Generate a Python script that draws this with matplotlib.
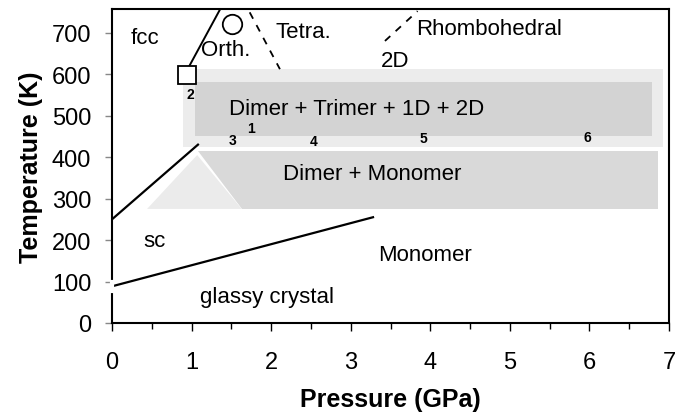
import matplotlib
matplotlib.use("Agg")
import matplotlib.pyplot as plt
from matplotlib.patches import Polygon

plt.rcParams['font.family'] = ['Liberation Sans', 'DejaVu Sans']

# shaded phase regions (pressure GPa, temperature K)
band_outer_p = [0.89, 6.92]
band_outer_t = [424, 612]
band_inner_p = [1.04, 6.78]
band_inner_t = [451, 581]
dimer_mono_p = [1.08, 6.86, 6.86, 1.63]
dimer_mono_t = [414, 414, 275, 275]
wedge_p = [1.07, 0.44, 1.63]
wedge_t = [405, 275, 275]

# phase boundaries
fcc_orth_p = [0.95, 1.36]
fcc_orth_t = [612, 757]
tetra_p = [1.73, 2.11]
tetra_t = [749, 612]
rhombo_p = [3.43, 3.84]
rhombo_t = [680, 752]
sc_p = [0.0, 1.08]
sc_t = [250, 430]
glass_p = [0.03, 3.28]
glass_t = [90, 255]

# experiment points
run_labels = ['1', '2', '3', '4', '5', '6']
run_p = [1.75, 0.99, 1.52, 2.53, 3.91, 5.98]
run_t = [470, 552, 441, 439, 446, 448]

fig = plt.figure(figsize=(6.89, 4.14), dpi=100)
ax = fig.add_axes([0.1626, 0.2174, 0.8084, 0.7584])
ax.set_xlim(0, 7)
ax.set_ylim(0, 757)

ax.fill_between(band_outer_p, band_outer_t[0], band_outer_t[1], color='#ececec', lw=0)
ax.fill_between(band_inner_p, band_inner_t[0], band_inner_t[1], color='#d3d3d3', lw=0)
ax.add_patch(Polygon(list(zip(dimer_mono_p, dimer_mono_t)), closed=True, fc='#d9d9d9', lw=0))
ax.add_patch(Polygon(list(zip(wedge_p, wedge_t)), closed=True, fc='#ebebeb', lw=0))

ax.plot(fcc_orth_p, fcc_orth_t, color='black', lw=1.4)
ax.plot(sc_p, sc_t, color='black', lw=1.6)
ax.plot(glass_p, glass_t, color='black', lw=1.6)
ax.plot(tetra_p, tetra_t, color='black', lw=1.3, dashes=(4, 4))
ax.plot(rhombo_p, rhombo_t, color='black', lw=1.3, dashes=(4, 4))

# open square and circle markers
ax.plot([0.94], [598], marker='s', ms=13.5, mfc='white', mec='black', mew=1.3)
ax.plot([1.51], [722], marker='o', ms=14, mfc='white', mec='black', mew=1.3)

for lab, p, t in zip(run_labels, run_p, run_t):
    ax.text(p, t, lab, fontsize=10, fontweight='bold', ha='center', va='center')

fs = 16
ax.text(0.41, 689, 'fcc', fontsize=fs, ha='center', va='center')
ax.text(1.43, 660, 'Orth.', fontsize=fs, ha='center', va='center')
ax.text(2.40, 704, 'Tetra.', fontsize=fs, ha='center', va='center')
ax.text(4.74, 710, 'Rhombohedral', fontsize=fs, ha='center', va='center')
ax.text(3.56, 634, '2D', fontsize=fs, ha='center', va='center')
ax.text(3.08, 516, 'Dimer + Trimer + 1D + 2D', fontsize=fs, ha='center', va='center')
ax.text(3.27, 361, 'Dimer + Monomer', fontsize=fs, ha='center', va='center')
ax.text(0.54, 198, 'sc', fontsize=fs, ha='center', va='center')
ax.text(3.93, 166, 'Monomer', fontsize=fs, ha='center', va='center')
ax.text(1.95, 63, 'glassy crystal', fontsize=fs, ha='center', va='center')

# small break in the temperature axis near the glassy line
ax.plot([0, 0], [78, 100], color='white', lw=3, clip_on=False, zorder=5)

ax.set_xticks(range(8))
ax.set_xticks([i + 0.5 for i in range(7)], minor=True)
ax.set_yticks(range(0, 800, 100))
ax.tick_params(axis='both', labelsize=17, direction='out', width=1)
ax.tick_params(axis='x', which='major', length=6, pad=14)
ax.tick_params(axis='x', which='minor', length=4.5, width=1)
ax.tick_params(axis='y', length=5, colors='#888888', labelcolor='black', pad=10)

for s in ax.spines.values():
    s.set_linewidth(1.5)

ax.set_xlabel('Pressure (GPa)', fontsize=18, fontweight='bold', labelpad=10)
ax.set_ylabel('Temperature (K)', fontsize=18, fontweight='bold', labelpad=6)

fig.savefig('out.png', dpi=100)
